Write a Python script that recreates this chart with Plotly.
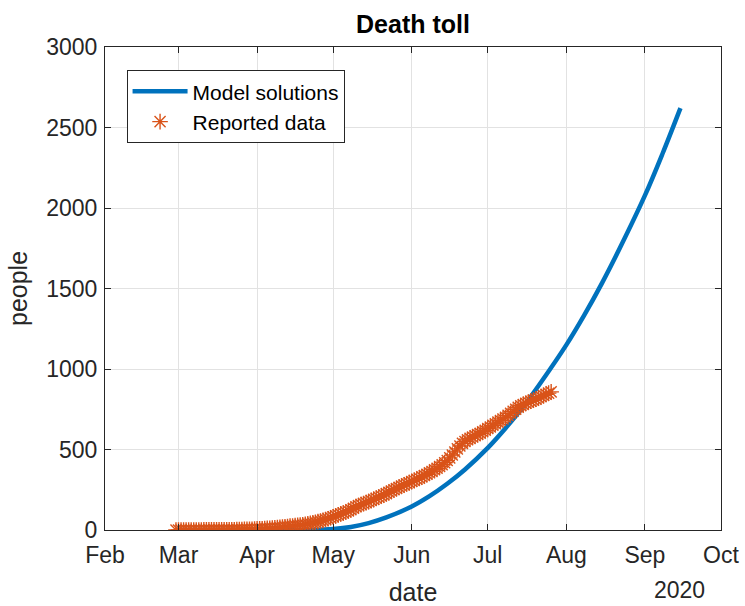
import plotly.graph_objects as go
import pandas as pd

# ---- data ----
model_dates = ["2020-02-29", "2020-03-20", "2020-04-10", "2020-04-23", "2020-05-01",
               "2020-05-08", "2020-05-15", "2020-05-22", "2020-06-01", "2020-06-08",
               "2020-06-15", "2020-06-22", "2020-07-01", "2020-07-08", "2020-07-15",
               "2020-07-22", "2020-08-01", "2020-08-08", "2020-08-15", "2020-08-22",
               "2020-09-01", "2020-09-08", "2020-09-15"]
model_values = [0, 0, 0, 0, 6,
                19, 43, 78, 146, 210,
                287, 376, 510, 632, 766,
                918, 1150, 1333, 1532, 1748,
                2078, 2340, 2620]

reported_start = "2020-02-29"
reported_values = [
    0,
    0, 0, 0, 0, 0, 0, 0, 0, 0, 0, 1, 1, 1, 1, 1, 1, 1, 1, 2, 2, 2, 2, 2, 3, 3, 3, 4, 4, 5, 5, 6,
    7, 8, 8, 9, 10, 11, 12, 13, 15, 16, 18, 20, 22, 24, 25, 27, 29, 31, 33, 35,
    38, 41, 44, 48, 52, 56, 60, 65, 70, 76,
    82, 88, 94, 100, 106, 112, 118, 126, 135, 145, 152, 158, 164, 170, 176, 183,
    190, 197, 204, 211, 218, 226, 234, 242, 250, 258, 266, 273, 280, 287, 294,
    301, 308, 315, 322, 330, 338, 346, 355, 364, 374, 384, 394, 405, 418, 432,
    448, 466, 485, 504, 522, 538, 550, 560, 569, 577, 585, 593, 601, 610, 620,
    630, 640, 650, 660, 670, 680, 690, 700, 712, 725, 738, 750, 762, 772, 780,
    787, 794, 800, 806, 813, 820, 828, 836, 843, 850, 858,
]
reported_dates = pd.date_range(reported_start, periods=len(reported_values), freq="D")

x_tick_dates = ["2020-02-01", "2020-03-01", "2020-04-01", "2020-05-01", "2020-06-01",
                "2020-07-01", "2020-08-01", "2020-09-01", "2020-10-01"]
x_tick_labels = ["Feb", "Mar", "Apr", "May", "Jun", "Jul", "Aug", "Sep", "Oct"]
y_ticks = [0, 500, 1000, 1500, 2000, 2500, 3000]

FONT = "Liberation Sans, Arial, sans-serif"
TXT = "#262626"

fig = go.Figure()
fig.add_trace(go.Scatter(
    x=model_dates, y=model_values, mode="lines", name="Model solutions",
    line=dict(color="#0072BD", width=4.5, shape="spline", smoothing=1.0),
))
fig.add_trace(go.Scatter(
    x=reported_dates, y=reported_values, mode="markers", name="Reported data",
    marker=dict(symbol="asterisk-open", size=13, color="#D95319",
                line=dict(color="#D95319", width=1.4)),
))

axis_common = dict(
    showline=True, linecolor=TXT, linewidth=1, mirror="ticks",
    ticks="inside", ticklen=6, tickcolor=TXT, tickwidth=1,
    showgrid=True, gridcolor="#e2e2e2", gridwidth=1,
    zeroline=False, tickfont=dict(family=FONT, size=23, color=TXT),
)

fig.update_layout(
    width=745, height=606,
    margin=dict(l=105, r=24, t=47, b=76, autoexpand=False),
    paper_bgcolor="white", plot_bgcolor="white",
    font=dict(family=FONT, color=TXT),
    showlegend=True,
    title=dict(text="<b>Death toll</b>", x=0.5, xref="paper", xanchor="center",
               y=1 - 24 / 606, yref="container", yanchor="middle",
               font=dict(family=FONT, size=25, color="black")),
    legend=dict(x=0.035, y=0.952, xanchor="left", yanchor="top",
                bgcolor="white", bordercolor=TXT, borderwidth=1,
                font=dict(family=FONT, size=21, color="black"),
                itemwidth=55, tracegroupgap=0),
    xaxis=dict(range=["2020-02-01", "2020-10-01"], tickvals=x_tick_dates,
               ticktext=x_tick_labels, ticklabelstandoff=4,
               title=dict(text="date", font=dict(family=FONT, size=25, color=TXT), standoff=24),
               **axis_common),
    yaxis=dict(range=[0, 3000], tickvals=y_ticks, ticklabelstandoff=2,
               title=dict(text="people", font=dict(family=FONT, size=25, color=TXT), standoff=11),
               **axis_common),
)

fig.add_annotation(text="2020", x=0.933, y=-0.124, xref="paper", yref="paper",
                   showarrow=False, xanchor="center", yanchor="middle",
                   font=dict(family=FONT, size=23, color=TXT))

fig.write_html("out.html", config={"displayModeBar": False},
               post_script="document.body.style.margin='0';")
